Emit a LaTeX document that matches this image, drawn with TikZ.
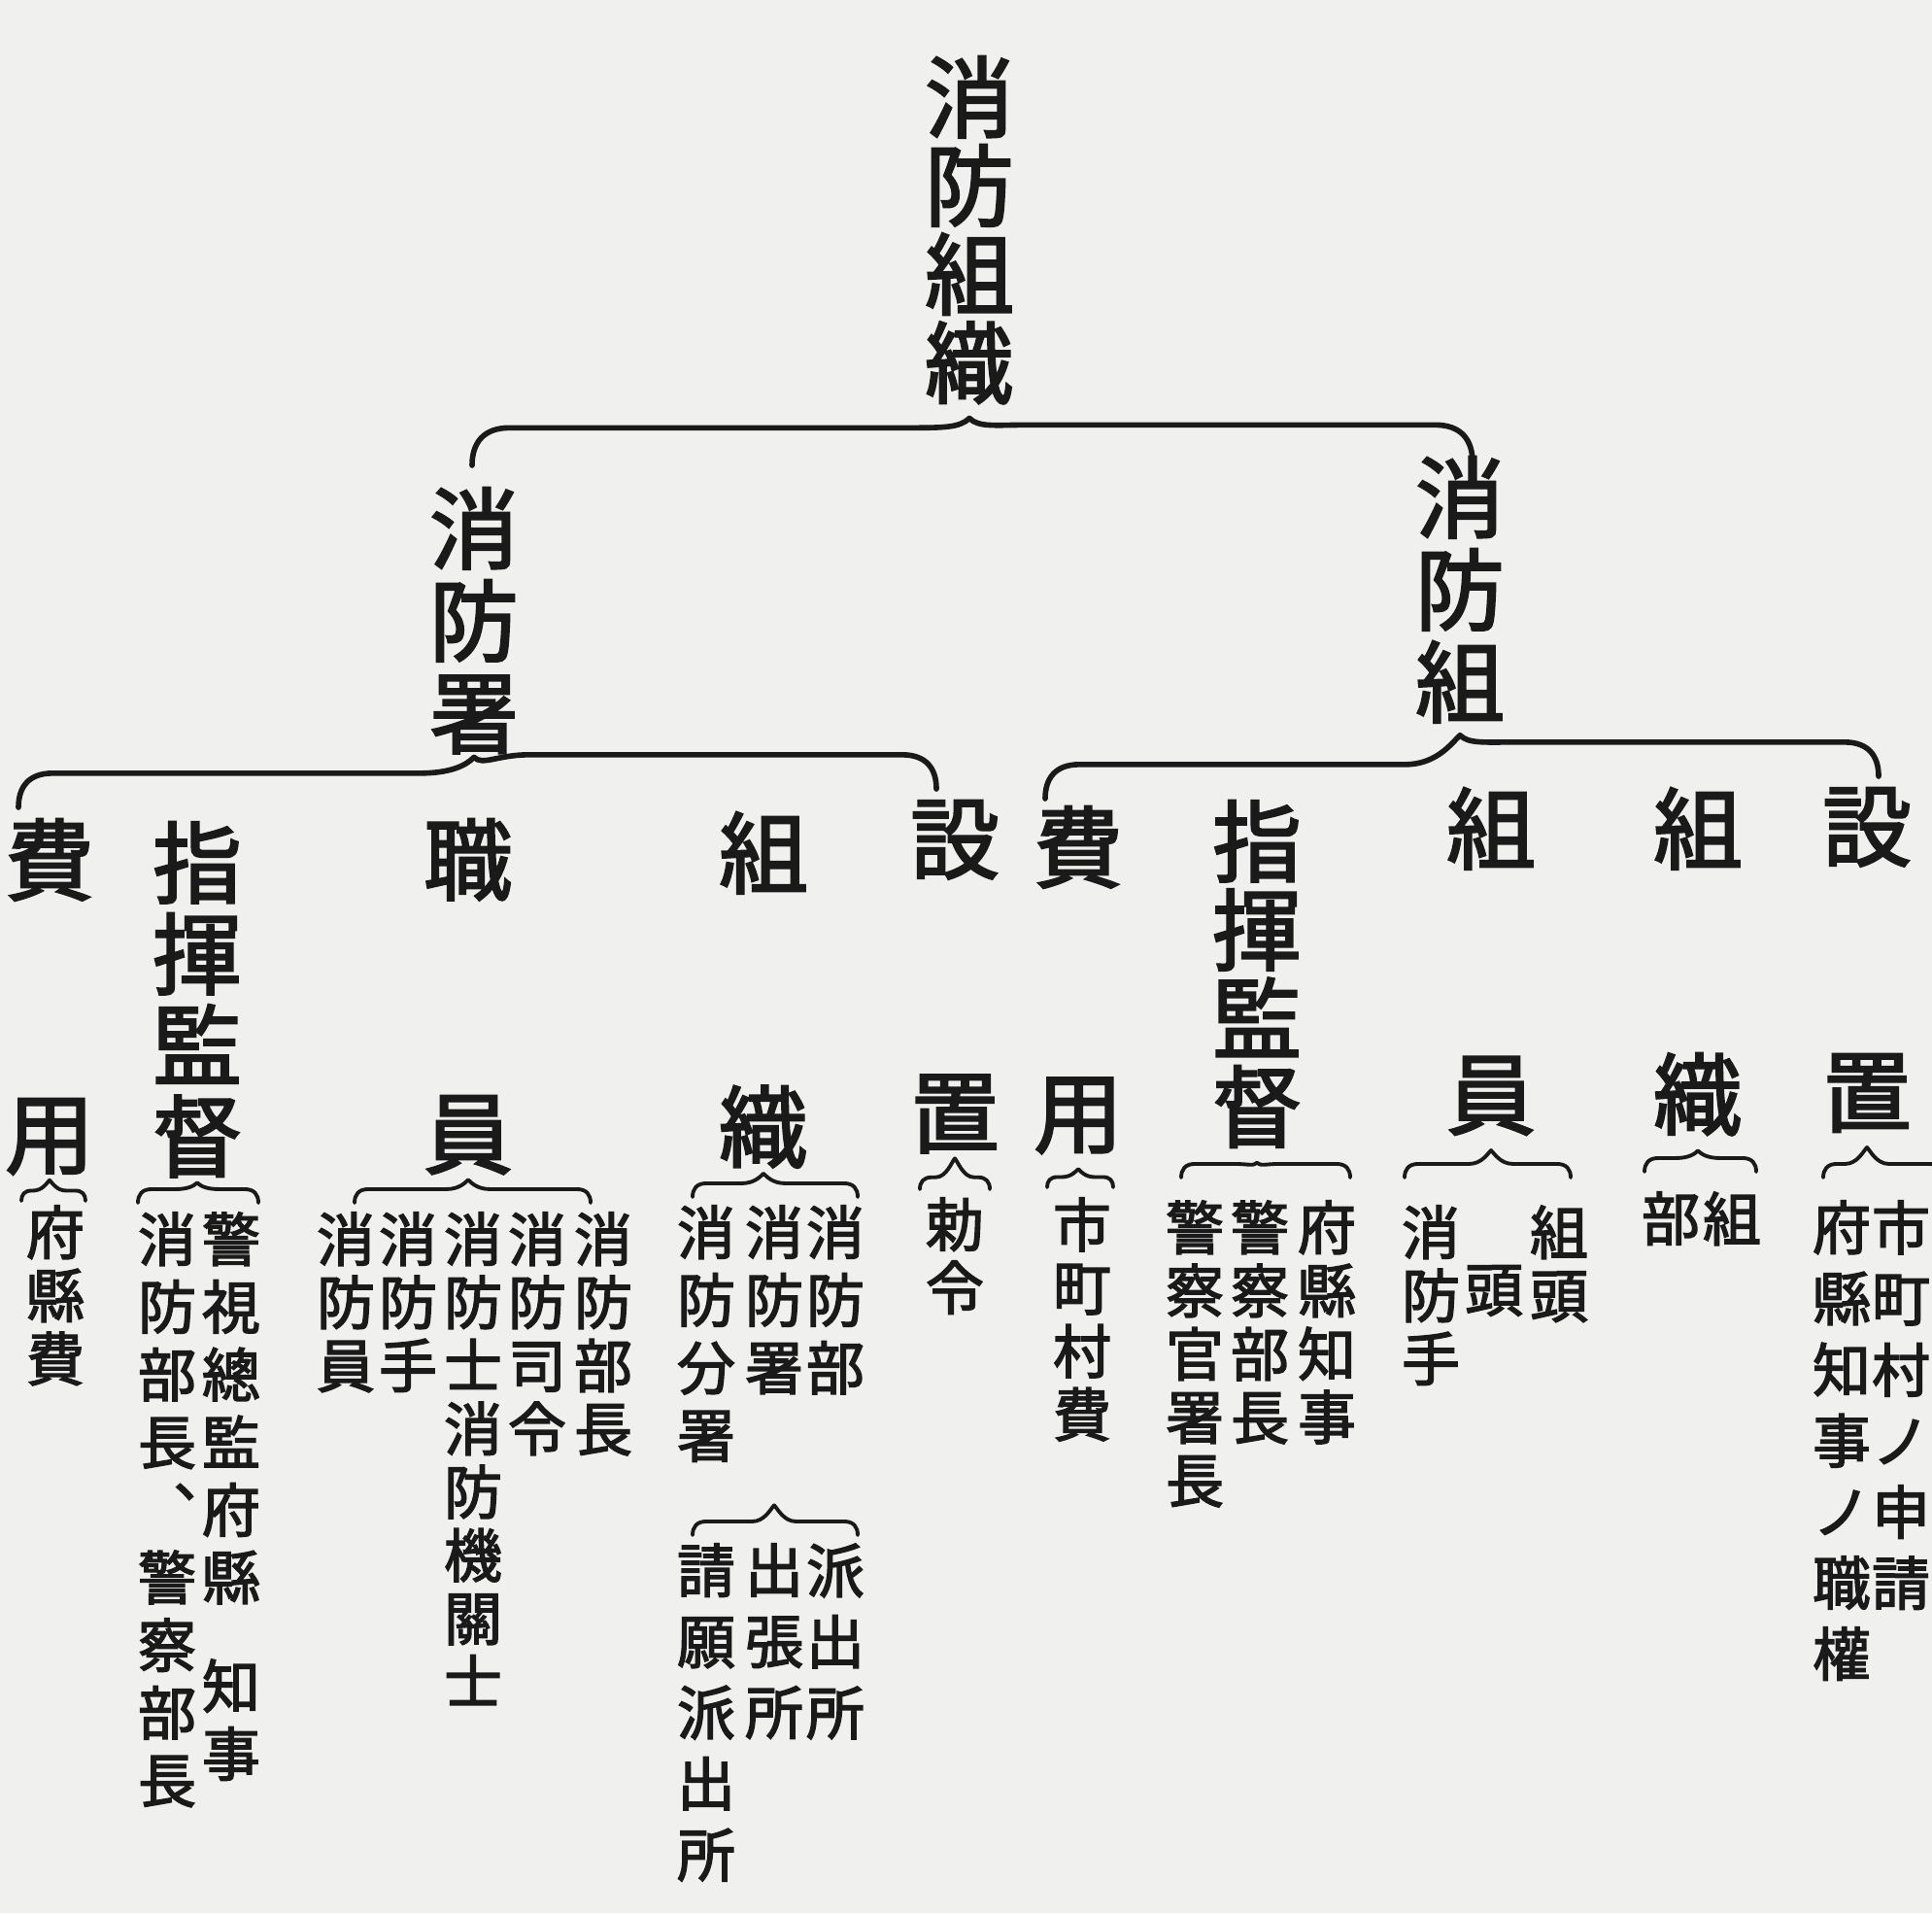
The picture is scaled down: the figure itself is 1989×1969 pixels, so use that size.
\documentclass[tikz,border=0pt]{standalone}
\usepackage{fontspec}
\newfontfamily\cjk[FakeBold=2.5]{Noto Sans CJK JP}
\usetikzlibrary{calc}
\definecolor{paper}{RGB}{240,240,239}
\definecolor{ink}{RGB}{26,26,26}
\newcommand\bk{\phantom{口}}
% brace: style, left end, peak, right end, curl
\newcommand\drawbrace[5]{%
  \draw[#1] let \p1=#2, \p2=#3, \p3=#4 in
    (\x1,\y1) .. controls (\x1,\y1+0.6*#5) and (\x1+0.3*#5,\y1+#5) .. (\x1+#5,\y1+#5)
    -- (\x2-1.6*#5,\y1+#5)
    .. controls (\x2-0.7*#5,\y1+#5) and (\x2-0.25*#5,\y2-0.25*#5) .. (\x2,\y2)
    .. controls (\x2+0.25*#5,\y2-0.25*#5) and (\x2+0.7*#5,\y3+#5) .. (\x2+1.6*#5,\y3+#5)
    -- (\x3-#5,\y3+#5)
    .. controls (\x3-0.3*#5,\y3+#5) and (\x3,\y3+0.6*#5) .. (\x3,\y3);}

\begin{document}
\begin{tikzpicture}[x=0.01cm, y=-0.01cm,
    vtext/.style={inner sep=0pt, anchor=north, align=center, text=ink},
    rootnode/.style={vtext, font=\cjk\fontsize{26}{25.9}\selectfont},
    headnode/.style={vtext, font=\cjk\fontsize{26}{27}\selectfont},
    leftnode/.style={vtext, font=\cjk\fontsize{26}{26.7}\selectfont},
    rightnode/.style={vtext, font=\cjk\fontsize{26}{25.9}\selectfont},
    itemnode/.style={vtext, font=\cjk\fontsize{17}{18.5}\selectfont},
    wideitem/.style={vtext, font=\cjk\fontsize{17}{19.8}\selectfont},
    widestitem/.style={vtext, font=\cjk\fontsize{17}{20.8}\selectfont},
    curly/.style={draw=ink, line width=1.6pt, line cap=round, line join=round},
    smallcurly/.style={curly, line width=1.1pt}]
    \useasboundingbox[fill=paper] (0,0) rectangle (1989,1969);
    % Nodes
    \node[rootnode] (root) at (998,57) {消\\防\\組\\織};
    \node[headnode] (shoL) at (488,501) {消\\防\\署};
    \node[headnode] (kumiR) at (1503,469) {消\\防\\組};
    % under 消防署
    \node[leftnode] (hiyoL) at (51,842) {費\\\bk\\\bk\\用};
    \node[leftnode] (shikiL) at (203,845) {指\\揮\\監\\督};
    \node[leftnode] (shokuL) at (482,842) {職\\\bk\\\bk\\員};
    \node[leftnode] (soshikiL) at (786,835) {組\\\bk\\\bk\\織};
    \node[leftnode] (setchiL) at (983,823) {設\\\bk\\\bk\\置};
    % under 消防組
    \node[rightnode] (hiyoR) at (1110,829) {費\\\bk\\\bk\\用};
    \node[rightnode] (shikiR) at (1294,823) {指\\揮\\監\\督};
    \node[rightnode] (kuminR) at (1535,810) {組\\\bk\\\bk\\員};
    \node[rightnode] (soshikiR) at (1748,810) {組\\\bk\\\bk\\織};
    \node[rightnode] (setchiR) at (1922,810) {設\\\bk\\\bk\\置};
    % third level, left
    \node[itemnode] (fukenhi) at (57,1240) {府\\縣\\費};
    \node[wideitem] (keishi) at (238,1247) {警\\視\\總\\監\\府\\縣\\[12pt]知\\事};
    \node[wideitem] (bucho) at (172,1247) {消\\防\\部\\長\\︑\\警\\察\\部\\長};
    \node[itemnode] (c1) at (621,1247) {消\\防\\部\\長};
    \node[itemnode] (c2) at (553,1247) {消\\防\\司\\令};
    \node[itemnode] (c3) at (487,1247) {消\\防\\士\\消\\防\\機\\關\\士};
    \node[itemnode] (c4) at (420,1247) {消\\防\\手};
    \node[itemnode] (c5) at (356,1247) {消\\防\\員};
    \node[wideitem] (s1) at (860,1240) {消\\防\\部};
    \node[wideitem] (s2) at (797,1240) {消\\防\\署};
    \node[wideitem] (s3) at (727,1240) {消\\防\\分\\署};
    \node[widestitem] (p1) at (860,1588) {派\\出\\所};
    \node[widestitem] (p2) at (797,1588) {出\\張\\所};
    \node[widestitem] (p3) at (727,1588) {請\\願\\派\\出\\所};
    \node[itemnode] (chokurei) at (983,1232) {勅\\令};
    % third level, right
    \node[itemnode] (shichoson) at (1114,1232) {市\\町\\村\\費};
    \node[itemnode] (f1) at (1366,1235) {府\\縣\\知\\事};
    \node[itemnode] (f2) at (1297,1235) {警\\察\\部\\長};
    \node[itemnode] (f3) at (1230,1235) {警\\察\\官\\署\\長};
    \node[itemnode] (k1) at (1605,1240) {組\\頭};
    \node[itemnode] (k2) at (1538,1240) {\bk\\頭};
    \node[itemnode] (k3) at (1473,1240) {消\\防\\手};
    \node[itemnode] (g1) at (1783,1226) {組};
    \node[itemnode] (g2) at (1720,1226) {部};
    \node[widestitem] (h1) at (1957,1235) {市\\町\\村\\ノ\\申\\請};
    \node[widestitem] (h2) at (1896,1235) {府\\縣\\知\\事\\ノ\\職\\權};
    % Brace ends
    \coordinate (t1) at (486,479);   \coordinate (t2) at (1516,476);
    \coordinate (a1) at (19,831);    \coordinate (a2) at (964,812);
    \coordinate (b1) at (1076,822);  \coordinate (b2) at (1934,799);
    % Braces
    \drawbrace{curly}{(t1)}{($(root.south)+(0,14)$)}{(t2)}{11pt}
    \drawbrace{curly}{(a1)}{($(shoL.south)+(0,3)$)}{(a2)}{10pt}
    \drawbrace{curly}{(b1)}{($(kumiR.south)+(0,12)$)}{(b2)}{10pt}
    \drawbrace{smallcurly}{(22,1236)}{($(hiyoL.south)+(0,5)$)}{(88,1236)}{3pt}
    \drawbrace{smallcurly}{(142,1238)}{($(shikiL.south)+(0,5)$)}{(266,1238)}{4pt}
    \drawbrace{smallcurly}{(365,1238)}{($(shokuL.south)+(0,5)$)}{(608,1238)}{4pt}
    \drawbrace{smallcurly}{(713,1232)}{($(soshikiL.south)+(0,5)$)}{(883,1232)}{4pt}
    \drawbrace{smallcurly}{(713,1580)}{($(s2.south |- s3.south)+(0,44)$)}{(883,1580)}{4pt}
    \drawbrace{smallcurly}{(947,1224)}{($(setchiL.south)+(0,5)$)}{(1019,1224)}{3.5pt}
    \drawbrace{smallcurly}{(1078,1222)}{($(hiyoR.south)+(0,15)$)}{(1146,1222)}{3pt}
    \drawbrace{smallcurly}{(1216,1212)}{($(shikiR.south)+(0,15)$)}{(1390,1212)}{4pt}
    \drawbrace{smallcurly}{(1446,1212)}{($(kuminR.south)+(0,15)$)}{(1617,1212)}{4pt}
    \drawbrace{smallcurly}{(1693,1206)}{($(soshikiR.south)+(0,15)$)}{(1808,1206)}{4pt}
    \drawbrace{smallcurly}{(1877,1212)}{($(setchiR.south)+(0,15)$)}{(2000,1212)}{4pt}
\end{tikzpicture}
\end{document}
